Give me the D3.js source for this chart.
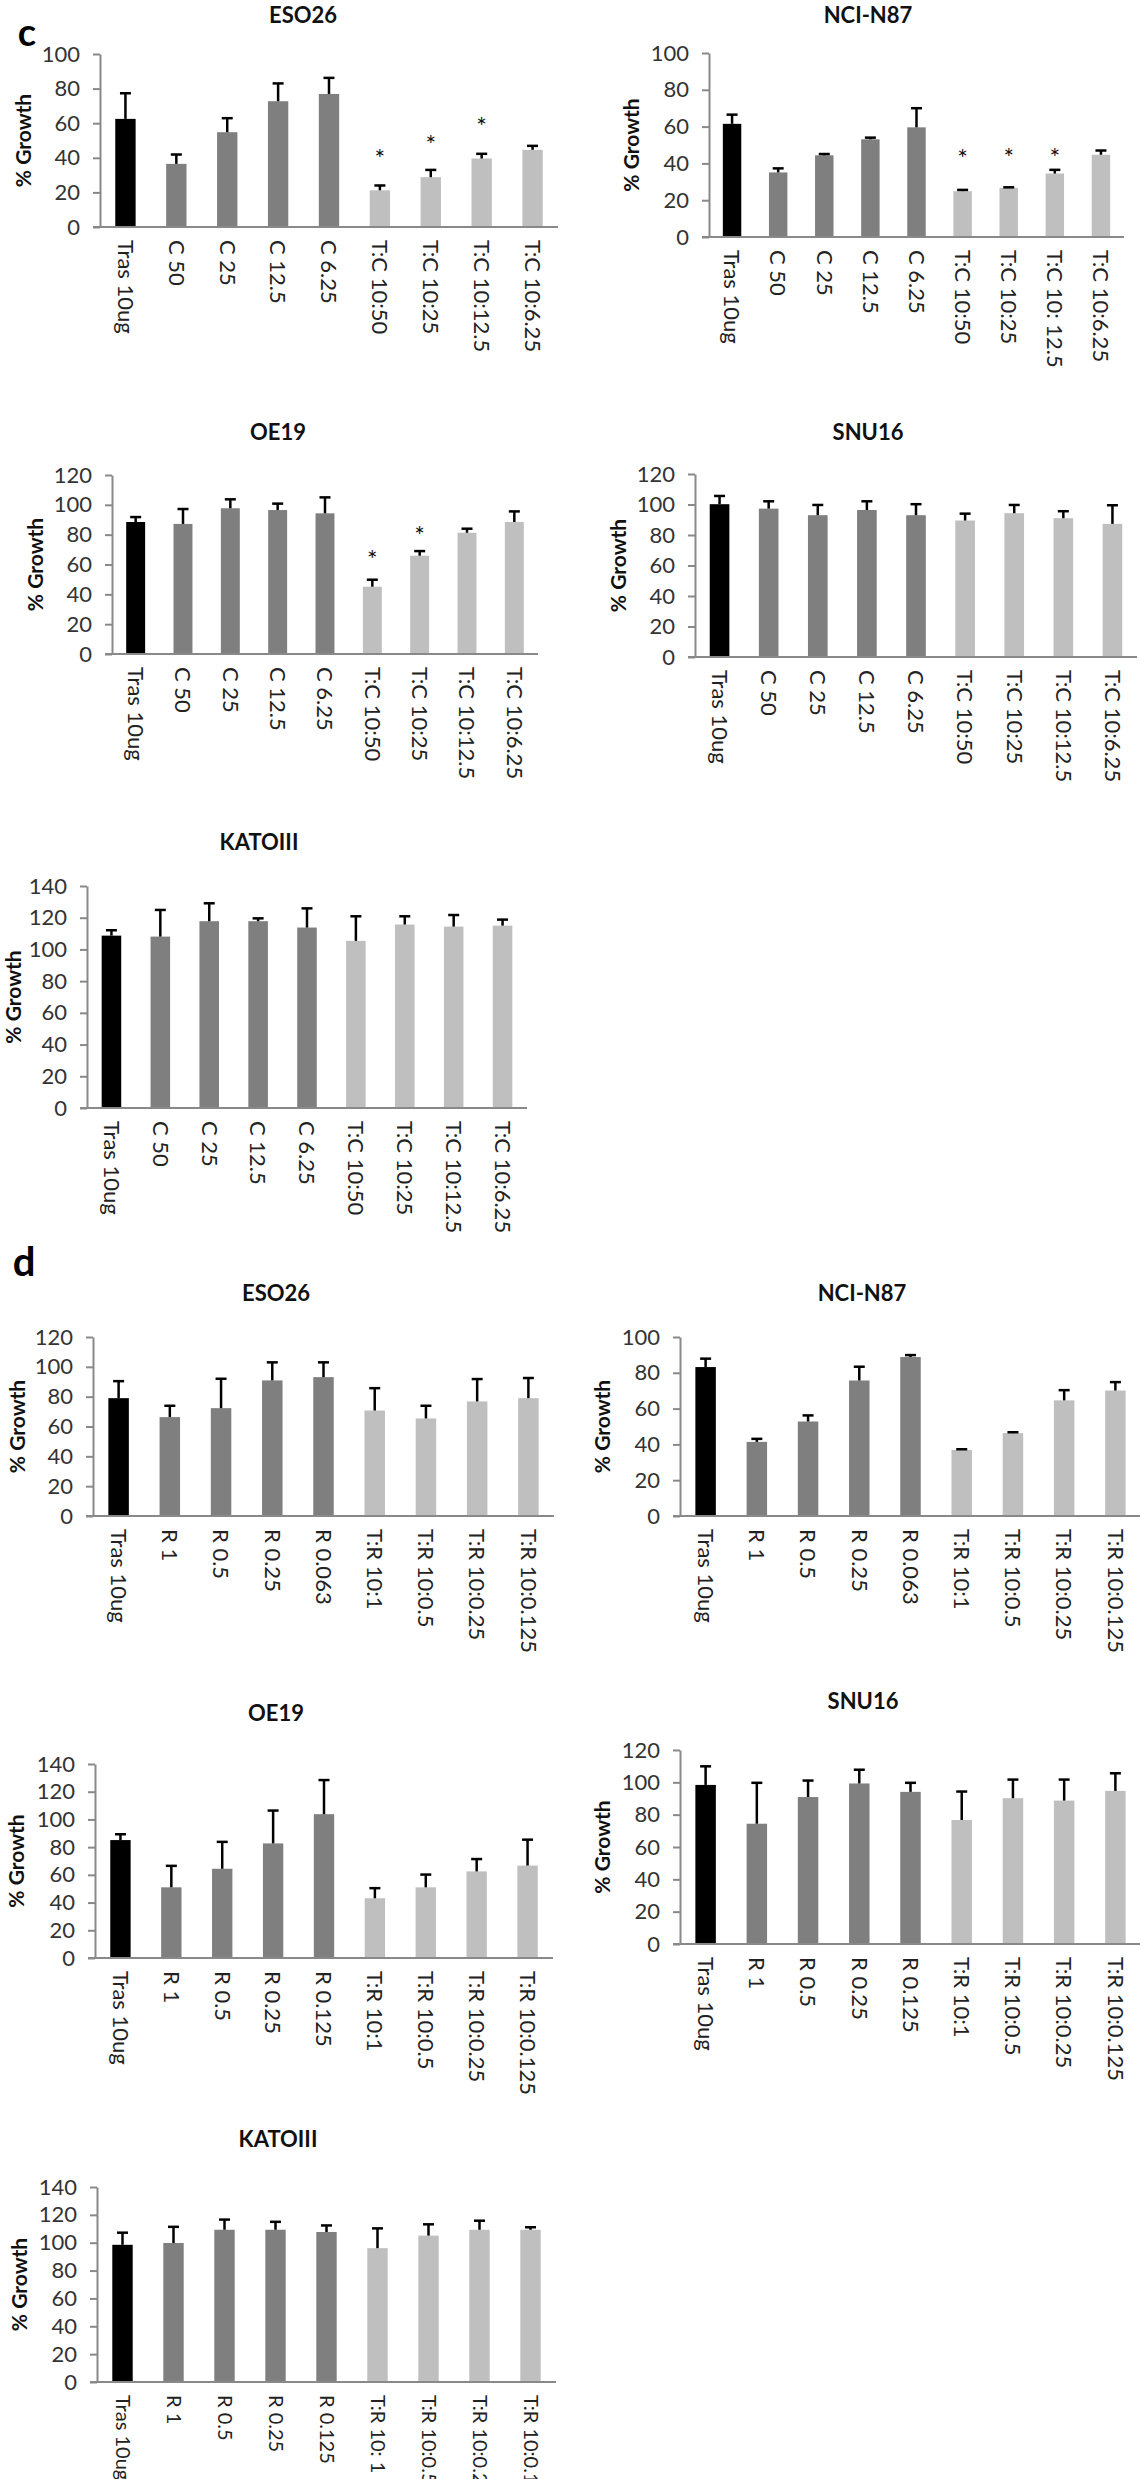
<!DOCTYPE html>
<html><head><meta charset="utf-8">
<script src="https://cdn.jsdelivr.net/npm/d3@7"></script>
<style>
body{margin:0;background:#fff}
svg{display:block}
text{font-family:Lato,"Open Sans",sans-serif}
</style>
</head><body>
<svg id="fig" width="1140" height="2479"></svg>
<script>
// ---------- categories ----------
const catsC      = ["Tras 10ug","C 50","C 25","C 12.5","C 6.25","T:C 10:50","T:C 10:25","T:C 10:12.5","T:C 10:6.25"];
const catsC_NCI  = ["Tras 10ug","C 50","C 25","C 12.5","C 6.25","T:C 10:50","T:C 10:25","T:C 10: 12.5","T:C 10:6.25"];
const catsD_063  = ["Tras 10ug","R 1","R 0.5","R 0.25","R 0.063","T:R 10:1","T:R 10:0.5","T:R 10:0.25","T:R 10:0.125"];
const catsD_125  = ["Tras 10ug","R 1","R 0.5","R 0.25","R 0.125","T:R 10:1","T:R 10:0.5","T:R 10:0.25","T:R 10:0.125"];
const catsD_KATO = ["Tras 10ug","R 1","R 0.5","R 0.25","R 0.125","T:R 10: 1","T:R 10:0.5","T:R 10:0.25","T:R 10:0.125"];
const barGroup   = ["tras","single","single","single","single","combo","combo","combo","combo"];

// ---------- y tick labels ----------
const ticks100 = [0,20,40,60,80,100];
const ticks120 = [0,20,40,60,80,100,120];
const ticks140 = [0,20,40,60,80,100,120,140];

// ---------- values (mean % growth, upper error) ----------
const cESO26Mean = [62.5,36.5,54.8,72.7,76.9,21.2,28.8,39.6,44.6];
const cESO26Err  = [14.8,5.4,8.1,10.3,9.3,2.8,4.2,2.7,2.3];
const cESO26Star = [null,null,null,null,null,42.3,50,60.6,null];

const cNCIMean = [61.5,35.1,44.4,53.1,59.6,24.9,26.7,34.5,44.7];
const cNCIErr  = [5,2.2,0.7,0.9,10.4,0.7,0.3,2,2.3];
const cNCIStar = [null,null,null,null,null,45,45.5,45.5,null];

const cOE19Mean = [88.5,87.2,97.7,96.5,94.3,45.1,65.9,81.3,88.5];
const cOE19Err  = [3.3,10,6,4.3,10.7,4.7,3.1,2.7,7.1];
const cOE19Star = [null,null,null,null,null,66.4,82.5,null,null];

const cSNU16Mean = [100.2,97.3,93,96.4,93,89.5,94.3,91,87.3];
const cSNU16Err  = [5.4,4.8,6.7,5.7,7.2,4.5,5.4,4.6,12.2];

const cKATOMean = [108.7,108.1,117.8,117.8,113.8,105.4,115.7,114.4,115];
const cKATOErr  = [3.4,16.8,11.3,1.8,12.1,15.5,5.2,7.3,3.8];

const dESO26Mean = [79,66.3,72.3,90.9,93.1,70.7,65.4,76.8,79];
const dESO26Err  = [11.4,7.6,19.7,12.1,9.9,15,8.5,15,13.5];

const dNCIMean = [83.2,41.4,52.8,75.7,88.8,36.9,46.3,64.6,70.1];
const dNCIErr  = [4.7,1.7,3.4,7.7,1.1,0.4,0.5,5.7,4.7];

const dOE19Mean = [85.1,51,64.4,82.7,103.8,43.1,51,62.5,66.7];
const dOE19Err  = [4.2,15.5,19.4,23.7,24.6,7.3,9.2,8.9,18.7];

const dSNU16Mean = [98.4,74.4,90.9,99.3,94.1,76.7,90.2,88.7,94.7];
const dSNU16Err  = [11.5,25.3,10.2,8.5,5.6,17.6,11.5,13,10.9];

const dKATOMean = [98.5,99.8,109.3,109.3,107.7,96.1,105.1,109.3,109.3];
const dKATOErr  = [8.7,11.6,7.3,5.7,4.7,14.2,8.1,6.5,1.8];

// ---------- panel layout ----------
const panels = [
  {title:"ESO26",  cats:catsC,      mean:cESO26Mean, err:cESO26Err, star:cESO26Star, ticks:ticks100, max:100, ax:100, ex:558,  yt:54,   y0:227,  tx:303, ty:15,   lx:24,  lf:22},
  {title:"NCI-N87",cats:catsC_NCI,  mean:cNCIMean,   err:cNCIErr,   star:cNCIStar,   ticks:ticks100, max:100, ax:709, ex:1124, yt:53,   y0:237,  tx:868, ty:15,   lx:632, lf:22},
  {title:"OE19",   cats:catsC,      mean:cOE19Mean,  err:cOE19Err,  star:cOE19Star,  ticks:ticks120, max:120, ax:112, ex:538,  yt:475,  y0:654,  tx:278, ty:432,  lx:36,  lf:22},
  {title:"SNU16",  cats:catsC,      mean:cSNU16Mean, err:cSNU16Err, star:null,       ticks:ticks120, max:120, ax:695, ex:1137, yt:474,  y0:657,  tx:868, ty:432,  lx:619, lf:22},
  {title:"KATOIII",cats:catsC,      mean:cKATOMean,  err:cKATOErr,  star:null,       ticks:ticks140, max:140, ax:87,  ex:527,  yt:886,  y0:1108, tx:259, ty:842,  lx:14,  lf:22},
  {title:"ESO26",  cats:catsD_063,  mean:dESO26Mean, err:dESO26Err, star:null,       ticks:ticks120, max:120, ax:93,  ex:554,  yt:1337, y0:1516, tx:276, ty:1293, lx:18,  lf:22},
  {title:"NCI-N87",cats:catsD_063,  mean:dNCIMean,   err:dNCIErr,   star:null,       ticks:ticks100, max:100, ax:680, ex:1141, yt:1337, y0:1516, tx:862, ty:1293, lx:603, lf:22},
  {title:"OE19",   cats:catsD_125,  mean:dOE19Mean,  err:dOE19Err,  star:null,       ticks:ticks140, max:140, ax:95,  ex:553,  yt:1764, y0:1958, tx:276, ty:1713, lx:17,  lf:22},
  {title:"SNU16",  cats:catsD_125,  mean:dSNU16Mean, err:dSNU16Err, star:null,       ticks:ticks120, max:120, ax:680, ex:1141, yt:1750, y0:1944, tx:863, ty:1701, lx:603, lf:22},
  {title:"KATOIII",cats:catsD_KATO, mean:dKATOMean,  err:dKATOErr,  star:null,       ticks:ticks140, max:140, ax:97,  ex:556,  yt:2187, y0:2382, tx:278, ty:2139, lx:20,  lf:20}
];

const fillOf = {tras:"#000000", single:"#7f7f7f", combo:"#bfbfbf"};
const axisCol = "#898989";
const svg = d3.select("#fig");
svg.append("rect").attr("width",1140).attr("height",2479).attr("fill","#fff");

// section letters
svg.append("text").attr("x",27).attr("y",33).attr("dy","0.35em").attr("text-anchor","middle")
   .attr("font-size",38).attr("font-weight","bold").text("c");
svg.append("text").attr("x",24).attr("y",1262).attr("dy","0.35em").attr("text-anchor","middle")
   .attr("font-size",40).attr("font-weight","bold").text("d");

panels.forEach(drawPanel);

function drawPanel(p){
  const g = svg.append("g");
  const x = d3.scaleBand().domain(p.cats).range([p.ax, p.ex]).paddingInner(0.6).paddingOuter(0.3);
  const y = d3.scaleLinear().domain([0, p.max]).range([p.y0, p.yt]);
  const rows = p.cats.map((c,i)=>({cat:c, mean:p.mean[i], err:p.err[i], grp:barGroup[i], star:p.star?p.star[i]:null}));

  // title
  g.append("text").attr("x",p.tx).attr("y",p.ty).attr("dy","0.35em").attr("text-anchor","middle")
    .attr("font-size",22).attr("font-weight","bold").attr("fill","#111").text(p.title);

  // y label
  g.append("text").attr("transform",`translate(${p.lx},${(p.y0+p.yt)/2}) rotate(-90)`)
    .attr("dy","0.35em").attr("text-anchor","middle").attr("font-size",21).attr("font-weight","bold")
    .attr("fill","#111").text("% Growth");

  // y axis
  const ya = g.append("g").attr("transform",`translate(${p.ax},0)`)
    .call(d3.axisLeft(y).tickValues(p.ticks).tickSize(7).tickSizeOuter(0).tickPadding(13).tickFormat(d3.format("d")));
  ya.select(".domain").attr("stroke",axisCol).attr("stroke-width",2);
  ya.selectAll(".tick line").attr("stroke",axisCol).attr("stroke-width",2);
  ya.selectAll(".tick text").attr("font-size",22).attr("fill","#333").attr("font-family","Lato");

  // bars
  g.selectAll("rect.bar").data(rows).join("rect").attr("class","bar")
    .attr("x",d=>x(d.cat)).attr("width",x.bandwidth())
    .attr("y",d=>y(d.mean)).attr("height",d=>p.y0 - y(d.mean))
    .attr("fill",d=>fillOf[d.grp]);

  // error bars
  const cx = d=>x(d.cat)+x.bandwidth()/2;
  g.selectAll("line.eb").data(rows).join("line").attr("class","eb")
    .attr("x1",cx).attr("x2",cx).attr("y1",d=>y(d.mean)).attr("y2",d=>y(d.mean+d.err))
    .attr("stroke","#000").attr("stroke-width",2.5);
  g.selectAll("line.cap").data(rows).join("line").attr("class","cap")
    .attr("x1",d=>cx(d)-5.5).attr("x2",d=>cx(d)+5.5).attr("y1",d=>y(d.mean+d.err)).attr("y2",d=>y(d.mean+d.err))
    .attr("stroke","#000").attr("stroke-width",2.5);

  // asterisks
  g.selectAll("text.star").data(rows.filter(d=>d.star!=null)).join("text").attr("class","star")
    .attr("x",cx).attr("y",d=>y(d.star)).attr("dy","0.55em").attr("text-anchor","middle")
    .attr("font-size",25).attr("fill","#111").text("*");

  // x axis line
  g.append("line").attr("x1",p.ax-7).attr("x2",p.ex).attr("y1",p.y0).attr("y2",p.y0)
    .attr("stroke",axisCol).attr("stroke-width",2);

  // category labels (rotated)
  g.selectAll("text.cat").data(rows).join("text").attr("class","cat")
    .attr("transform",d=>`translate(${cx(d)},${p.y0+13}) rotate(90)`)
    .attr("dy","0.35em").attr("text-anchor","start").attr("font-size",p.lf).attr("fill","#222")
    .text(d=>d.cat);
}
</script>
</body></html>
